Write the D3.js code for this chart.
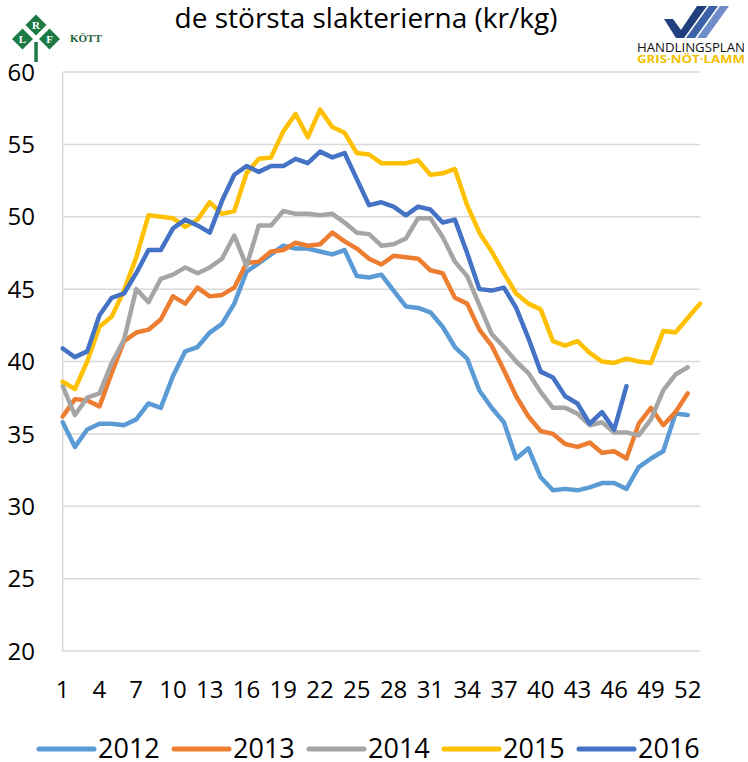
<!DOCTYPE html>
<html>
<head>
<meta charset="utf-8">
<script src="https://cdn.jsdelivr.net/npm/d3@7"></script>
<style>
  body { margin: 0; background: #fff; }
  svg { display: block; font-family: "Open Sans", "Liberation Sans", sans-serif; }
</style>
</head>
<body>
<div id="chart"></div>
<script>
// weekly prices (kr/kg)
const years = ['2012', '2013', '2014', '2015', '2016'];
const colors = ['#5B9BD5', '#ED7D31', '#A5A5A5', '#FFC000', '#4472C4'];

const s2012 = [35.8, 34.1, 35.3, 35.7, 35.7, 35.6, 36.0, 37.1, 36.8, 39.0,
  40.7, 41.0, 42.0, 42.6, 44.0, 46.2, 46.8, 47.4, 48.0, 47.8,
  47.8, 47.6, 47.4, 47.7, 45.9, 45.8, 46.0, 44.9, 43.8, 43.7,
  43.4, 42.4, 41.0, 40.2, 38.0, 36.8, 35.8, 33.3, 34.0, 32.0,
  31.1, 31.2, 31.1, 31.3, 31.6, 31.6, 31.2, 32.7, 33.3, 33.8,
  36.4, 36.3];
const s2013 = [36.2, 37.4, 37.3, 36.9, 39.2, 41.4, 42.0, 42.2, 42.9, 44.5,
  44.0, 45.1, 44.5, 44.6, 45.1, 46.8, 46.9, 47.6, 47.7, 48.2,
  48.0, 48.1, 48.9, 48.3, 47.8, 47.1, 46.7, 47.3, 47.2, 47.1,
  46.3, 46.1, 44.4, 44.0, 42.2, 41.1, 39.4, 37.6, 36.2, 35.2,
  35.0, 34.3, 34.1, 34.4, 33.7, 33.8, 33.3, 35.7, 36.8, 35.6,
  36.5, 37.8];
const s2014 = [38.3, 36.3, 37.5, 37.8, 39.9, 41.5, 45.0, 44.1, 45.7, 46.0,
  46.5, 46.1, 46.5, 47.1, 48.7, 46.6, 49.4, 49.4, 50.4, 50.2,
  50.2, 50.1, 50.2, 49.6, 48.9, 48.8, 48.0, 48.1, 48.5, 49.9,
  49.9, 48.6, 46.9, 45.9, 43.9, 41.9, 41.0, 40.0, 39.2, 37.9,
  36.8, 36.8, 36.4, 35.6, 35.8, 35.1, 35.1, 34.9, 36.0, 38.0,
  39.1, 39.6];
const s2015 = [38.6, 38.1, 40.0, 42.4, 43.1, 44.9, 47.2, 50.1, 50.0, 49.9,
  49.3, 49.8, 51.0, 50.2, 50.4, 53.0, 54.0, 54.1, 55.9, 57.1,
  55.5, 57.4, 56.2, 55.8, 54.4, 54.3, 53.7, 53.7, 53.7, 53.9,
  52.9, 53.0, 53.3, 50.8, 48.9, 47.6, 46.1, 44.7, 44.0, 43.6,
  41.4, 41.1, 41.4, 40.6, 40.0, 39.9, 40.2, 40.0, 39.9, 42.1,
  42.0, 43.0, 44.0];
const s2016 = [40.9, 40.3, 40.7, 43.2, 44.4, 44.7, 46.1, 47.7, 47.7, 49.2,
  49.8, 49.4, 48.9, 51.1, 52.9, 53.5, 53.1, 53.5, 53.5, 54.0,
  53.7, 54.5, 54.1, 54.4, 52.6, 50.8, 51.0, 50.7, 50.1, 50.7,
  50.5, 49.6, 49.8, 47.5, 45.0, 44.9, 45.1, 43.7, 41.6, 39.3,
  38.9, 37.6, 37.1, 35.7, 36.5, 35.3, 38.3];

const yTicks = [20, 25, 30, 35, 40, 45, 50, 55, 60];
const xTicks = [1, 4, 7, 10, 13, 16, 19, 22, 25, 28, 31, 34, 37, 40, 43, 46, 49, 52];

const series = [s2012, s2013, s2014, s2015, s2016];

const W = 748, H = 762;
const plotLeft = 62.7, plotRight = 700, plotTop = 72, plotBottom = 651;

const svg = d3.select('#chart')
  .append('svg')
  .attr('width', W)
  .attr('height', H);

// weeks 1..53, points sit on the ticks
let x = d3.scaleLinear().domain([1, 53]).range([plotLeft, plotRight]);
let y = d3.scaleLinear().domain([20, 60]).range([plotBottom, plotTop]);

// gridlines
svg.append('g')
  .selectAll('line')
  .data(yTicks)
  .enter()
  .append('line')
  .attr('x1', plotLeft)
  .attr('x2', plotRight)
  .attr('y1', d => y(d))
  .attr('y2', d => y(d))
  .attr('stroke', '#D9D9D9')
  .attr('stroke-width', 1.5);

// left axis line
svg.append('line')
  .attr('x1', plotLeft).attr('x2', plotLeft)
  .attr('y1', y(60)).attr('y2', y(20))
  .attr('stroke', '#D9D9D9')
  .attr('stroke-width', 1.5);

// y labels
svg.append('g')
  .selectAll('text')
  .data(yTicks)
  .enter()
  .append('text')
  .attr('x', 35)
  .attr('y', d => y(d))
  .attr('dy', '0.36em')
  .attr('text-anchor', 'end')
  .attr('font-size', 24)
  .attr('fill', '#000')
  .text(d => d);

// x labels
svg.append('g')
  .selectAll('text')
  .data(xTicks)
  .enter()
  .append('text')
  .attr('x', d => x(d))
  .attr('y', 698)
  .attr('text-anchor', 'middle')
  .attr('font-size', 24)
  .attr('fill', '#000')
  .text(d => d);

// the lines
let line = d3.line()
  .x((d, i) => x(i + 1))
  .y(d => y(d));

svg.append('g')
  .selectAll('path')
  .data(series)
  .enter()
  .append('path')
  .attr('d', d => line(d))
  .attr('fill', 'none')
  .attr('stroke', (d, i) => colors[i])
  .attr('stroke-width', 4.5)
  .attr('stroke-linejoin', 'round')
  .attr('stroke-linecap', 'round');

// legend
let legend = svg.append('g')
  .selectAll('g')
  .data(years)
  .enter()
  .append('g')
  .attr('transform', (d, i) => 'translate(' + (39 + i * 135) + ',749)');

legend.append('line')
  .attr('x1', 0).attr('x2', 55)
  .attr('y1', 0).attr('y2', 0)
  .attr('stroke', (d, i) => colors[i])
  .attr('stroke-width', 5)
  .attr('stroke-linecap', 'round');

legend.append('text')
  .attr('x', 59)
  .attr('y', 9)
  .attr('font-size', 27)
  .attr('fill', '#000')
  .text(d => d);

// header image area
let head = svg.append('g');
head.append('rect')
  .attr('x', 0).attr('y', 0)
  .attr('width', W).attr('height', 63)
  .attr('fill', '#fff');

head.append('text')
  .attr('x', 366)
  .attr('y', 28)
  .attr('text-anchor', 'middle')
  .attr('font-size', 28)
  .attr('fill', '#000')
  .text('de största slakterierna (kr/kg)');

// LRF Kött logo
let lrf = head.append('g');
const green = '#1E7A45';
lrf.append('rect').attr('x', 34.3).attr('y', 42).attr('width', 3.5).attr('height', 20).attr('fill', green);
[[36, 25, 'R'], [22.5, 39, 'L'], [49.5, 39, 'F']].forEach(function (p) {
  lrf.append('path')
    .attr('d', 'M' + p[0] + ',' + (p[1] - 10.5) + 'L' + (p[0] + 10.5) + ',' + p[1] + 'L' + p[0] + ',' + (p[1] + 10.5) + 'L' + (p[0] - 10.5) + ',' + p[1] + 'Z')
    .attr('fill', green);
  lrf.append('text')
    .attr('x', p[0]).attr('y', p[1] + 4)
    .attr('text-anchor', 'middle')
    .attr('font-family', '"Liberation Serif", serif')
    .attr('font-weight', 'bold')
    .attr('font-size', 11)
    .attr('fill', '#fff')
    .text(p[2]);
});
lrf.append('text')
  .attr('x', 70).attr('y', 42)
  .attr('font-family', '"Liberation Serif", serif')
  .attr('font-weight', 'bold')
  .attr('font-size', 11)
  .attr('fill', '#1E5E3A')
  .text('KÖTT');

// Handlingsplan logo
let hp = head.append('g');
hp.append('path').attr('d', 'M664,19L673,19L681,30L697,6L707,6L684,38L676,38Z').attr('fill', '#203F7C');
hp.append('path').attr('d', 'M709,6L718,6L695,38L686,38Z').attr('fill', '#3B62A9');
hp.append('path').attr('d', 'M720,6L729,6L706,38L697,38Z').attr('fill', '#6F8DC9');
hp.append('text')
  .attr('x', 637).attr('y', 52)
  .attr('textLength', 108)
  .attr('lengthAdjust', 'spacingAndGlyphs')
  .attr('font-size', 12)
  .attr('fill', '#111')
  .text('HANDLINGSPLAN');
hp.append('text')
  .attr('x', 637).attr('y', 63)
  .attr('textLength', 108)
  .attr('lengthAdjust', 'spacingAndGlyphs')
  .attr('font-size', 11)
  .attr('font-weight', 'bold')
  .attr('fill', '#F2C000')
  .text('GRIS·NÖT·LAMM');
</script>
</body>
</html>
